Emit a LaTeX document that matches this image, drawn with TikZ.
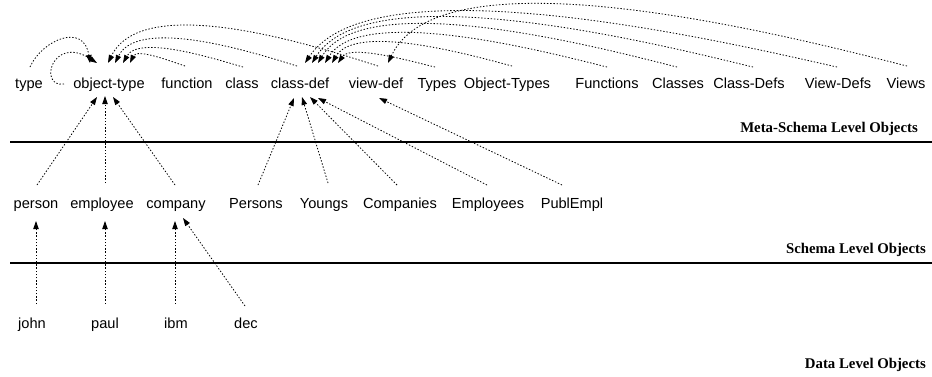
\documentclass[tikz,border=0pt]{standalone}
\usepackage{fontspec}
\setmainfont{Liberation Sans}
\newfontfamily\levelfont{Liberation Serif}
\usetikzlibrary{arrows.meta,calc}
\begin{document}
\begin{tikzpicture}[x=1pt,y=-1pt,
  obj/.style={font=\fontsize{14.6}{17}\selectfont, inner sep=0pt, anchor=base},
  lvl/.style={font=\levelfont\bfseries\fontsize{14.8}{17}\selectfont, inner sep=0pt, anchor=base east},
  link/.style={line width=0.8pt, dash pattern=on 1.4pt off 1.8pt,
    -{Triangle[length=8pt,width=5.4pt]}},
  sep/.style={line width=1.1pt}]
\useasboundingbox (0,0) rectangle (932,376);

% meta-schema level objects
\node[obj] (type)  at (29,88)  {type};
\node[obj] (ot)    at (109,88) {object-type};
\node[obj] (fn)    at (187,88) {function};
\node[obj] (cl)    at (242,88) {class};
\node[obj] (cd)    at (300,88) {class-def};
\node[obj] (vd)    at (376,88) {view-def};
\node[obj] (Ty)    at (437,88) {Types};
\node[obj] (OT)    at (507,88) {Object-Types};
\node[obj] (Fn)    at (607,88) {Functions};
\node[obj] (Cl)    at (678,88) {Classes};
\node[obj] (CD)    at (749,88) {Class-Defs};
\node[obj] (VD)    at (838,88) {View-Defs};
\node[obj] (Vw)    at (906,88) {Views};

% schema level objects
\node[obj] (person)    at (36,208)  {person};
\node[obj] (employee)  at (102,208) {employee};
\node[obj] (company)   at (176,208) {company};
\node[obj] (Persons)   at (256,208) {Persons};
\node[obj] (Youngs)    at (324,208) {Youngs};
\node[obj] (Companies) at (400,208) {Companies};
\node[obj] (Employees) at (488,208) {Employees};
\node[obj] (PublEmpl)  at (572,208) {PublEmpl};

% data level objects
\node[obj] (john) at (32,328)  {john};
\node[obj] (paul) at (105,328) {paul};
\node[obj] (ibm)  at (176,328) {ibm};
\node[obj] (dec)  at (246,328) {dec};

% level captions and separators
\node[lvl] (lmeta)   at (918,132) {Meta-Schema Level Objects};
\node[lvl] (lschema) at (926,253) {Schema Level Objects};
\node[lvl] (ldata)   at (926,368) {Data Level Objects};
\draw[sep] (10,142) -- (932,142);
\draw[sep] (10,263) -- (932,263);

% instance-of links into object-type
\draw[link] ($(type.base)+(1,-21)$) .. controls +(12,-27) and +(-6,-41) .. ($(ot.base)+(-19,-25)$);
\draw[link] ($(ot.base)+(-45,-4)$) .. controls +(-26,4) and +(-45,-29) .. ($(ot.base)+(-12,-25)$);
\draw[link] ($(fn.base)+(-2,-22)$) .. controls +(-11,-3.6) and +(7,-15) .. ($(ot.base)+(21,-25)$);
\draw[link] ($(cl.base)+(1,-21)$) .. controls +(-24,-6.75) and +(16,-29) .. ($(ot.base)+(14,-25)$);
\draw[link] ($(cd.base)+(-3,-22)$) .. controls +(-36.4,-11.25) and +(24,-48) .. ($(ot.base)+(6,-25)$);
\draw[link] ($(vd.base)+(2,-22)$) .. controls +(-54,-17.1) and +(36,-74) .. ($(ot.base)+(-1,-25)$);

% instance-of links into class-def
\draw[link] ($(Ty.base)+(-2,-21)$) .. controls +(-19.4,-4.5) and +(13,-19) .. ($(cd.base)+(38,-25)$);
\draw[link] ($(OT.base)+(5,-22)$) .. controls +(-36,-9.45) and +(24,-41) .. ($(cd.base)+(32,-25)$);
\draw[link] ($(Fn.base)+(0,-21)$) .. controls +(-56.4,-13.95) and +(37,-60) .. ($(cd.base)+(25,-25)$);
\draw[link] ($(Cl.base)+(-1,-21)$) .. controls +(-71.8,-18) and +(47,-78) .. ($(cd.base)+(18,-25)$);
\draw[link] ($(CD.base)+(4,-21)$) .. controls +(-88.2,-21.15) and +(58,-92) .. ($(cd.base)+(12,-25)$);
\draw[link] ($(VD.base)+(-1,-21)$) .. controls +(-106.4,-23.85) and +(70,-104) .. ($(cd.base)+(5,-25)$);

% Views is an instance of view-def
\draw[link] ($(Vw.base)+(1,-22)$) .. controls +(-103.8,-26.1) and +(55,-118) .. ($(vd.base)+(12,-25)$);

% schema objects to their meta-types
\draw[link] ($(person.base)+(1,-23)$)    -- ($(ot.base)+(-12,9)$);
\draw[link] ($(employee.base)+(3,-25)$)  -- ($(ot.base)+(-4,8)$);
\draw[link] ($(company.base)+(-1,-23)$)  -- ($(ot.base)+(4,9)$);
\draw[link] ($(Persons.base)+(2,-23)$)   -- ($(cd.base)+(-6,10)$);
\draw[link] ($(Youngs.base)+(4,-25)$)    -- ($(cd.base)+(2,9)$);
\draw[link] ($(Companies.base)+(-3,-23)$) -- ($(cd.base)+(10,9)$);
\draw[link] ($(Employees.base)+(-1,-23)$) -- ($(cd.base)+(18,10)$);
\draw[link] ($(PublEmpl.base)+(-10,-23)$) -- ($(vd.base)+(3,10)$);

% data objects to their types
\draw[link] ($(john.base)+(4,-24)$) -- ($(person.base)+(0,13)$);
\draw[link] ($(paul.base)+(0,-24)$) -- ($(employee.base)+(3,13)$);
\draw[link] ($(ibm.base)+(-1,-24)$) -- ($(company.base)+(-1,13)$);
\draw[link] ($(dec.base)+(-1,-22)$) -- ($(company.base)+(7,10)$);
\end{tikzpicture}
\end{document}
